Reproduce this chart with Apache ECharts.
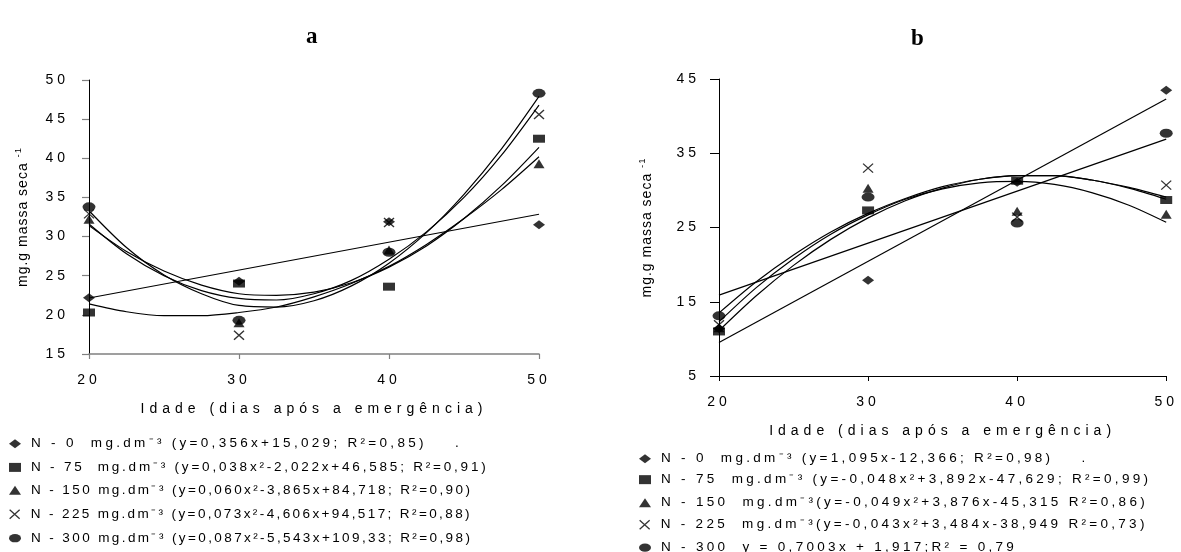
<!DOCTYPE html>
<html>
<head>
<meta charset="utf-8">
<script src="https://cdn.jsdelivr.net/npm/echarts@6/dist/echarts.min.js"></script>
<style>html,body{margin:0;padding:0;background:#fff}#c{width:1181px;height:552px}</style>
</head>
<body>
<div id="c"></div>
<script>
// Letter spacing for canvas text: a tag family "lsNN" in the font string sets NN/10 px
(function(){
  var proto = CanvasRenderingContext2D.prototype;
  var d = Object.getOwnPropertyDescriptor(proto, 'font');
  if (!d || !('letterSpacing' in proto)) return;
  Object.defineProperty(proto, 'font', {
    configurable: true,
    get: function(){ return d.get.call(this); },
    set: function(v){
      d.set.call(this, v);
      var m = /ls(\d+)/.exec(v);
      this.letterSpacing = m ? (parseInt(m[1], 10) / 10) + 'px' : '0px';
    }
  });
})();

// ---------- data ----------
const days = [20, 30, 40, 50];
const fitDays = [20, 22.5, 25, 27.5, 30, 32.5, 35, 37.5, 40, 42.5, 45, 47.5, 50];
const lineDays = [20, 50];
const yTicksB = [5, 15, 25, 35, 45];

// chart a – observed points
const aN0   = [22.2, 24.3, 31.9, 31.5];
const aN75  = [20.3, 24.0, 23.6, 42.5];
const aN150 = [32.2, 19.0, 28.3, 39.3];
const aN225 = [32.9, 17.4, 31.8, 45.6];
const aN300 = [33.8, 19.3, 28.0, 48.3];
// chart a – fitted curves
const aFit0   = [22.15, 32.85];
const aFit75  = [21.4, 20.4, 19.9, 19.9, 20.3, 21.0, 22.3, 24.0, 26.2, 29.0, 32.3, 36.0, 40.2];
const aFit150 = [31.4, 28.1, 25.6, 23.8, 22.7, 22.5, 22.9, 24.1, 26.1, 28.8, 32.3, 36.5, 41.4];
const aFit225 = [31.6, 27.8, 25.0, 23.1, 22.1, 21.9, 22.7, 24.4, 27.1, 30.6, 35.0, 40.4, 46.8];
const aFit300 = [33.3, 28.6, 25.1, 22.7, 21.2, 21.0, 21.8, 23.7, 26.6, 30.5, 35.4, 41.2, 47.9];

// chart b – observed points
const bN0   = [11.4, 17.9, 31.1, 43.5];
const bN75  = [11.0, 27.3, 31.3, 28.7];
const bN150 = [11.5, 30.3, 27.2, 26.8];
const bN225 = [11.9, 33.0, 26.4, 30.7];
const bN300 = [13.1, 29.1, 25.6, 37.7];
// chart b – fitted curves
const bFit0   = [9.5, 42.3];
const bFit300 = [15.9, 36.9];
const bFit75  = [11.1, 15.8, 19.9, 23.4, 26.3, 28.6, 30.3, 31.5, 32.0, 32.0, 31.4, 30.3, 28.8];
const bFit150 = [12.3, 16.9, 20.8, 24.1, 26.7, 28.8, 30.2, 31.0, 31.2, 30.8, 29.7, 28.0, 25.7];
const bFit225 = [13.5, 17.7, 21.3, 24.4, 26.9, 28.9, 30.5, 31.5, 32.0, 32.0, 31.4, 30.4, 29.1];

const legA = [
  'N - 0  mg.dm⁻³ (y=0,356x+15,029; R²=0,85)    .',
  'N - 75  mg.dm⁻³ (y=0,038x²-2,022x+46,585; R²=0,91)',
  'N - 150 mg.dm⁻³ (y=0,060x²-3,865x+84,718; R²=0,90)',
  'N - 225 mg.dm⁻³ (y=0,073x²-4,606x+94,517; R²=0,88)',
  'N - 300 mg.dm⁻³ (y=0,087x²-5,543x+109,33; R²=0,98)'
];
const legB = [
  'N - 0  mg.dm⁻³ (y=1,095x-12,366; R²=0,98)    .',
  'N - 75  mg.dm⁻³ (y=-0,048x²+3,892x-47,629; R²=0,99)',
  'N - 150  mg.dm⁻³(y=-0,049x²+3,876x-45,315 R²=0,86)',
  'N - 225  mg.dm⁻³(y=-0,043x²+3,484x-38,949 R²=0,73)',
  'N - 300  y = 0,7003x + 1,917;R² = 0,79'
];
const titles = ['a', 'b'];
const xName = 'Idade (dias após a emergência)';

// ---------- styles ----------
const fam = (t) => t + ", 'Liberation Sans', Arial, sans-serif";
const F_NAME = fam('ls50');
const F_TICK = fam('ls40');
const F_Y = fam('ls10');
const legSpacingA = ['ls33', 'ls28', 'ls24', 'ls24', 'ls24'];
const legSpacingB = ['ls33', 'ls33', 'ls33', 'ls33', 'ls33'];
const xPath = 'path://M0,0L10,9M10,0L0,9';
const ellPath = 'path://M0,4.5A6.5,4.5 0 1 1 13,4.5A6.5,4.5 0 1 1 0,4.5Z';
const marks = [
  {symbol: 'diamond', size: [12, 9], style: {color: '#000'}},
  {symbol: 'rect', size: [12, 8], style: {color: '#000'}},
  {symbol: 'triangle', size: [11, 9], style: {color: '#000'}},
  {symbol: xPath, size: [10, 9], style: {color: 'rgba(0,0,0,0)', borderColor: '#000', borderWidth: 1.3}},
  {symbol: ellPath, size: [13, 9], style: {color: '#000'}}
];

function zip(xs, ys){ return ys.map((y, i) => [xs[i], y]); }

const series = [];
function addFit(idx, xs, ys, smooth){
  series.push({type: 'line', name: 'fit' + idx + '_' + series.length, xAxisIndex: idx, yAxisIndex: idx,
    data: zip(xs, ys), smooth: smooth ? 0.3 : false, showSymbol: false, symbol: 'none', silent: true,
    lineStyle: {color: '#000', width: 1.2}, z: 2});
}
function addPts(idx, name, ys, m){
  series.push({type: 'scatter', name: name, xAxisIndex: idx, yAxisIndex: idx,
    data: zip(days, ys), symbol: m.symbol, symbolSize: m.size, itemStyle: m.style, z: 5});
}
addFit(0, lineDays, aFit0, false);
addFit(0, fitDays, aFit75, true);
addFit(0, fitDays, aFit150, true);
addFit(0, fitDays, aFit225, true);
addFit(0, fitDays, aFit300, true);
[aN0, aN75, aN150, aN225, aN300].forEach((d, i) => addPts(0, legA[i], d, marks[i]));
addFit(1, lineDays, bFit0, false);
addFit(1, lineDays, bFit300, false);
addFit(1, fitDays, bFit75, true);
addFit(1, fitDays, bFit150, true);
addFit(1, fitDays, bFit225, true);
[bN0, bN75, bN150, bN225, bN300].forEach((d, i) => addPts(1, legB[i], d, marks[i]));

// one legend component per line, at the reference rows
const legendTopsA = [442, 466, 489, 513, 537];
const legendTopsB = [457, 478, 501, 523, 546];
const legends = [];
function addLegends(names, tops, left, spacings){
  names.forEach((n, i) => legends.push({
    data: [{name: n, icon: marks[i].symbol, itemStyle: marks[i].style}],
    left: left, top: tops[i] - 7, padding: 0, itemWidth: 12, itemHeight: 9,
    selectedMode: false,
    textStyle: {fontFamily: fam(spacings[i]), fontSize: 13.5, lineHeight: 14, color: '#000', padding: [0, 0, 0, 5]}
  }));
}
addLegends(legA, legendTopsA, 9, legSpacingA);
addLegends(legB, legendTopsB, 639, legSpacingB);

const yName = {
  name: '{a|mg.g massa seca }{s|-1}',
  nameLocation: 'middle', nameRotate: 90,
  nameTextStyle: {rich: {
    a: {fontFamily: F_Y, fontSize: 14, color: '#000'},
    s: {fontFamily: F_Y, fontSize: 9.5, color: '#000', padding: [0, 0, 10, 0]}
  }}
};

const chart = echarts.init(document.getElementById('c'), null, {renderer: 'canvas'});
chart.setOption({
  animation: false,
  backgroundColor: '#fff',
  title: [
    {text: titles[0], left: 301, top: 21, textStyle: {fontFamily: "'Liberation Serif', serif", fontWeight: 'bold', fontSize: 23, color: '#000'}},
    {text: titles[1], left: 906, top: 23, textStyle: {fontFamily: "'Liberation Serif', serif", fontWeight: 'bold', fontSize: 23, color: '#000'}}
  ],
  grid: [
    {left: 89, top: 80, width: 450, height: 274},
    {left: 719, top: 79, width: 452, height: 297}
  ],
  xAxis: [
    {type: 'value', gridIndex: 0, min: 20, max: 50, interval: 10,
     name: xName, nameLocation: 'middle', nameGap: 46,
     nameTextStyle: {fontFamily: F_NAME, fontSize: 14, color: '#000'},
     axisLine: {lineStyle: {color: '#808080', width: 1.5}},
     axisTick: {length: 5, lineStyle: {color: '#808080', width: 1.2}},
     axisLabel: {margin: 17, fontFamily: F_TICK, fontSize: 14, color: '#000'},
     splitLine: {show: false}},
    {type: 'value', gridIndex: 1, min: 20, max: 50, interval: 10,
     name: xName, nameLocation: 'middle', nameGap: 46,
     nameTextStyle: {fontFamily: F_NAME, fontSize: 14, color: '#000'},
     axisLine: {lineStyle: {color: '#000', width: 1}},
     axisTick: {length: 5, lineStyle: {color: '#000', width: 1}},
     axisLabel: {margin: 17, fontFamily: F_TICK, fontSize: 14, color: '#000'},
     splitLine: {show: false}}
  ],
  yAxis: [
    Object.assign({type: 'value', gridIndex: 0, min: 15, max: 50, interval: 5, nameGap: 55,
     axisLine: {show: true, lineStyle: {color: '#000', width: 1}},
     axisTick: {show: true, length: 7, lineStyle: {color: '#808080', width: 1.2}},
     axisLabel: {margin: 20, fontFamily: F_TICK, fontSize: 14, color: '#000'},
     splitLine: {show: false}}, yName),
    Object.assign({type: 'value', gridIndex: 1, min: 5, max: 45, nameGap: 61,
     axisLine: {show: true, lineStyle: {color: '#000', width: 1}},
     axisTick: {show: true, length: 9, customValues: yTicksB, lineStyle: {color: '#000', width: 1}},
     axisLabel: {margin: 19, customValues: yTicksB, fontFamily: F_TICK, fontSize: 14, color: '#000'},
     splitLine: {show: false}}, yName)
  ],
  legend: legends,
  series: series
});
</script>
</body>
</html>
